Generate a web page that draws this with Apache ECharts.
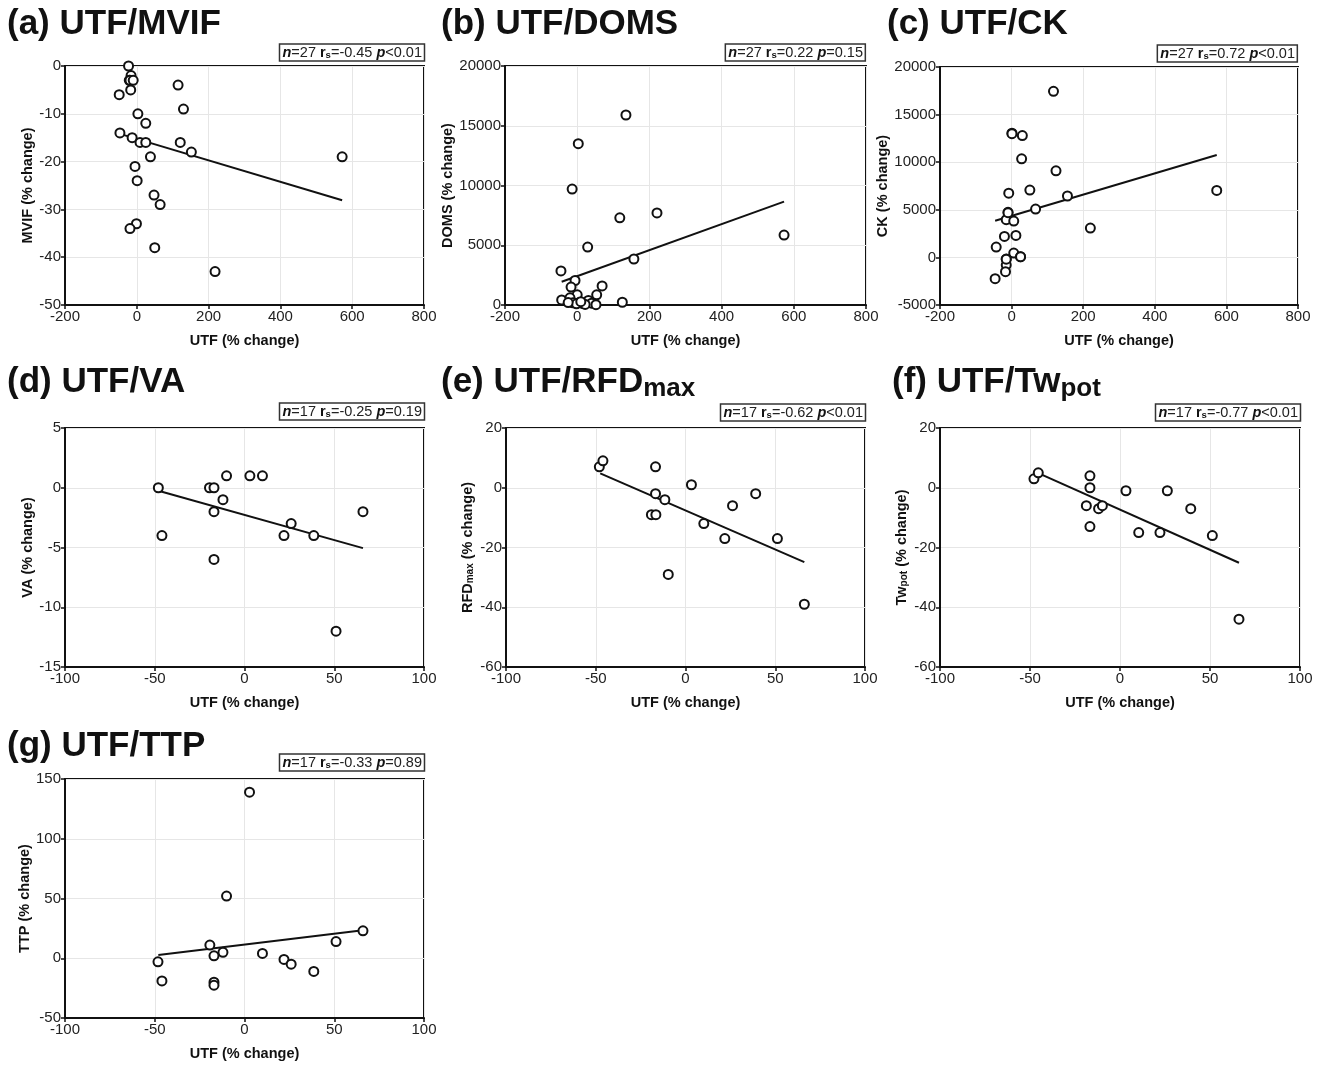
<!DOCTYPE html>
<html>
<head>
<meta charset="utf-8">
<title>UTF correlations</title>
<script src="https://cdn.jsdelivr.net/npm/echarts@6/dist/echarts.min.js"></script>
<style>
    html, body { margin: 0; padding: 0; background: #fff; }
    #main { width: 1325px; height: 1065px; }
</style>
</head>
<body>
<div id="main"></div>
<script>
// points: [UTF % change, outcome % change]
var mvifPts = [[-23,0],[-16,-2],[-21,-3],[-19,-3],[-10,-3],[-17,-5],[-49,-6],[115,-4],[130,-9],[3,-10],[25,-12],
    [-47,-14],[-13,-15],[9,-16],[25,-16],[121,-16],[152,-18],[38,-19],[572,-19],[-5,-21],[1,-24],[48,-27],
    [65,-29],[-1,-33],[-19,-34],[50,-38],[218,-43]];
var domsPts = [[135,15900],[3,13500],[-14,9700],[118,7300],[221,7700],[573,5850],[29,4850],[157,3850],[-45,2850],
    [-6,2050],[-17,1500],[69,1600],[0,850],[54,850],[-43,420],[-20,600],[31,380],[-12,180],[6,200],[16,120],
    [40,150],[52,30],[125,230],[-2,100],[22,50],[10,280],[-25,200]];
var ckPts = [[117,17450],[1,13050],[30,12800],[28,10350],[124,9100],[51,7070],[573,7040],[-8,6750],[156,6450],
    [67,5080],[-10,4730],[-15,3960],[6,3820],[220,3080],[-20,2200],[12,2310],[-43,1090],[6,460],[25,70],
    [-15,-180],[-15,-800],[-17,-1500],[-46,-2240],[-10,4700],[1,13000],[25,60],[-15,-190]];
var vaPts = [[-48,0],[-46,-4],[-19.5,0],[-17,0],[-17,-2],[-17,-6],[-12,-1],[-10,1],[3,1],[10,1],[22,-4],
    [26,-3],[38.6,-4],[51,-12],[66,-2]];
var rfdPts = [[-48,7],[-46,9],[-16.7,7],[-16.7,-2],[-19,-9],[-16.5,-9],[-11.5,-4],[-9.6,-29],[3.3,1],[10.2,-12],
    [21.9,-17],[26.2,-6],[39.1,-2],[51.2,-17],[66.2,-39]];
var twPts = [[-47.8,3],[-45.4,5],[-16.7,4],[-16.7,0],[-18.7,-6],[-16.7,-13],[-11.9,-7],[-9.8,-6],[3.3,-1],
    [10.4,-15],[22.2,-15],[26.3,-1],[39.3,-7],[51.3,-16],[66.1,-44]];
var ttpPts = [[2.8,139],[-10,52],[66,23],[51,14],[-19.3,11],[-12,5],[-17,2],[10,4],[22,-1],[26,-5],[-48.2,-3],
    [-46,-19],[-17,-20],[-17,-22.5],[38.6,-11]];

// regression line ends
var mvifFit = [[-47,-14.2],[572,-28.1]];
var domsFit = [[-43,1950],[573,8650]];
var ckFit = [[-46,3850],[573,10750]];
var vaFit = [[-48,-0.25],[66,-5.05]];
var rfdFit = [[-47.5,4.8],[66.2,-24.9]];
var twFit = [[-45.4,4.9],[66.1,-25.1]];
var ttpFit = [[-48,2.8],[66,23.4]];

var panelTitles = ['(a) UTF/MVIF','(b) UTF/DOMS','(c) UTF/CK','(d) UTF/VA','(e) UTF/RFD{sub|max}','(f) UTF/Tw{sub|pot}','(g) UTF/TTP'];
var yNames = ['MVIF (% change)','DOMS (% change)','CK (% change)','VA (% change)','RFD{sub|max} (% change)','Tw{sub|pot} (% change)','TTP (% change)'];
var xName = 'UTF (% change)';
var statN = ['27','27','27','17','17','17','17'];
var statR = ['-0.45','0.22','0.72','-0.25','-0.62','-0.77','-0.33'];
var statP = ['<0.01','=0.15','<0.01','=0.19','<0.01','<0.01','=0.89'];

// [min, max, interval]
var xRanges = [[-200,800,200],[-200,800,200],[-200,800,200],[-100,100,50],[-100,100,50],[-100,100,50],[-100,100,50]];
var yRanges = [[-50,0,10],[0,20000,5000],[-5000,20000,5000],[-15,5,5],[-60,20,20],[-60,20,20],[-50,150,50]];

var allPts = [mvifPts, domsPts, ckPts, vaPts, rfdPts, twPts, ttpPts];
var allFits = [mvifFit, domsFit, ckFit, vaFit, rfdFit, twFit, ttpFit];

// layout (pixels)
var gridBox = [[65,66,359,239],[505,66,361,239],[940,67,358,238],[65,428,359,239],[506,428,359,239],[940,428,360,239],[65,779,359,239]];
var titlePos = [[7,4],[441,4],[887,4],[7,362],[441,362],[892,362],[7,726]];
var statPos = [[900,44],[459,44],[27,45],[900,403],[459,404],[24,404],[900,754]];
var yNameGap = [29,44,45,29,31,31,32];

var myChart = echarts.init(document.getElementById('main'));

var grids = [], xAxes = [], yAxes = [], series = [], titles = [];
for (var i = 0; i < 7; i++) {
    var g = gridBox[i];
    grids.push({left: g[0], top: g[1], width: g[2], height: g[3], show: true,
        borderColor: '#111', borderWidth: 2, backgroundColor: 'transparent'});
    xAxes.push({
        type: 'value', gridIndex: i, min: xRanges[i][0], max: xRanges[i][1], interval: xRanges[i][2],
        name: xName, nameLocation: 'middle', nameGap: 28,
        nameTextStyle: {fontFamily: 'Liberation Sans', fontWeight: 'bold', fontSize: 14.5, color: '#111'},
        axisLine: {onZero: false, lineStyle: {color: '#111', width: 2}},
        axisTick: {show: true, length: 4, lineStyle: {color: '#111', width: 1.5}},
        axisLabel: {fontFamily: 'Liberation Sans', fontSize: 15, color: '#222', margin: 4,
            formatter: function (v) { return String(v); }},
        splitLine: {show: true, lineStyle: {color: '#e6e6e6', width: 1}}
    });
    yAxes.push({
        type: 'value', gridIndex: i, min: yRanges[i][0], max: yRanges[i][1], interval: yRanges[i][2],
        name: yNames[i], nameLocation: 'middle', nameGap: yNameGap[i],
        nameTextStyle: {fontFamily: 'Liberation Sans', fontWeight: 'bold', fontSize: 14.5, color: '#111',
            rich: {sub: {fontFamily: 'Liberation Sans', fontWeight: 'bold', fontSize: 10, color: '#111', verticalAlign: 'bottom', lineHeight: 10}}},
        axisLine: {onZero: false, lineStyle: {color: '#111', width: 2}},
        axisTick: {show: true, length: 4, lineStyle: {color: '#111', width: 1.5}},
        axisLabel: {fontFamily: 'Liberation Sans', fontSize: 15, color: '#222', margin: 4,
            formatter: function (v) { return String(v); }},
        splitLine: {show: true, lineStyle: {color: '#e6e6e6', width: 1}}
    });
    series.push({
        type: 'scatter', xAxisIndex: i, yAxisIndex: i, data: allPts[i],
        symbol: 'circle', symbolSize: 9,
        itemStyle: {color: '#fff', borderColor: '#111', borderWidth: 2, opacity: 1},
        z: 3
    });
    series.push({
        type: 'line', xAxisIndex: i, yAxisIndex: i, data: allFits[i],
        symbol: 'none', lineStyle: {color: '#111', width: 2}, z: 2
    });
    titles.push({
        text: panelTitles[i], left: titlePos[i][0], top: titlePos[i][1], padding: 0,
        textStyle: {fontFamily: 'Liberation Sans', fontWeight: 'bold', fontSize: 35, color: '#111', lineHeight: 40,
            rich: {sub: {fontFamily: 'Liberation Sans', fontWeight: 'bold', fontSize: 26, color: '#111', verticalAlign: 'bottom', lineHeight: 24}}}
    });
    titles.push({
        text: '{i|n}=' + statN[i] + ' {b|r}{s|s}=' + statR[i] + ' {i|p}' + statP[i],
        right: statPos[i][0], top: statPos[i][1], padding: [1, 3, 1, 3],
        borderColor: '#333', borderWidth: 1.5,
        textStyle: {fontFamily: 'Liberation Sans', fontWeight: 'normal', fontSize: 14.5, color: '#222', lineHeight: 15,
            rich: {
                i: {fontFamily: 'Liberation Sans', fontWeight: 'bold', fontStyle: 'italic', fontSize: 14.5, color: '#111'},
                b: {fontFamily: 'Liberation Sans', fontWeight: 'bold', fontSize: 14.5, color: '#111'},
                s: {fontFamily: 'Liberation Sans', fontWeight: 'bold', fontSize: 9.5, color: '#111', verticalAlign: 'bottom', lineHeight: 9}
            }}
    });
}

var option = {
    animation: false,
    backgroundColor: '#fff',
    title: titles,
    grid: grids,
    xAxis: xAxes,
    yAxis: yAxes,
    series: series
};
myChart.setOption(option);
</script>
</body>
</html>
